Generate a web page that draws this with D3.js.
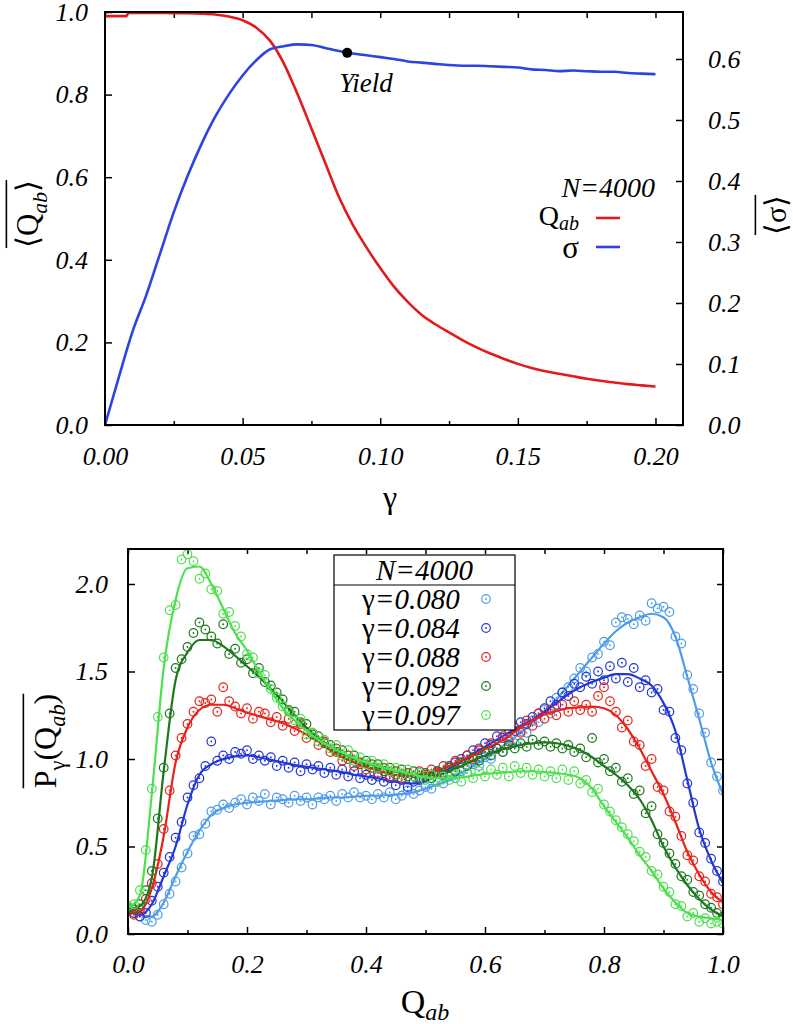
<!DOCTYPE html>
<html>
<head>
<meta charset="utf-8">
<script src="https://cdn.jsdelivr.net/npm/d3@7"></script>
<style>
  body { margin: 0; background: #fff; }
</style>
</head>
<body>
<script>
// ---------- data: top panel ----------
const gammaQ = [0, 0.005, 0.0078, 0.0085, 0.010, 0.015, 0.020, 0.025, 0.030, 0.035, 0.040, 0.045, 0.050, 0.055, 0.060, 0.065, 0.070, 0.075, 0.080, 0.085, 0.090, 0.095, 0.100, 0.105, 0.110, 0.115, 0.120, 0.125, 0.130, 0.135, 0.140, 0.145, 0.150, 0.155, 0.160, 0.165, 0.170, 0.175, 0.180, 0.185, 0.190, 0.195, 0.200];
const qabMean = [0.990, 0.990, 0.990, 0.998, 0.998, 0.998, 0.998, 0.997, 0.997, 0.996, 0.994, 0.989, 0.980, 0.962, 0.930, 0.875, 0.800, 0.718, 0.635, 0.552, 0.485, 0.430, 0.380, 0.335, 0.298, 0.267, 0.244, 0.224, 0.205, 0.188, 0.173, 0.160, 0.148, 0.138, 0.130, 0.124, 0.118, 0.112, 0.107, 0.103, 0.099, 0.096, 0.093];

const gammaS = [0, 0.005, 0.010, 0.015, 0.020, 0.025, 0.030, 0.035, 0.040, 0.045, 0.050, 0.055, 0.060, 0.065, 0.070, 0.075, 0.080, 0.085, 0.090, 0.095, 0.100, 0.105, 0.110, 0.115, 0.120, 0.125, 0.130, 0.135, 0.140, 0.145, 0.150, 0.155, 0.160, 0.165, 0.170, 0.175, 0.180, 0.185, 0.190, 0.195, 0.200];
const sigmaMean = [0.000, 0.078, 0.153, 0.213, 0.281, 0.349, 0.408, 0.460, 0.505, 0.542, 0.573, 0.598, 0.616, 0.621, 0.624, 0.623, 0.618, 0.613, 0.609, 0.606, 0.603, 0.600, 0.596, 0.594, 0.592, 0.590, 0.589, 0.589, 0.588, 0.587, 0.586, 0.583, 0.582, 0.580, 0.581, 0.580, 0.579, 0.579, 0.577, 0.576, 0.575];

const yieldPoint = [0.088, 0.610];

const gammaTicks = [0, 0.05, 0.10, 0.15, 0.20];
const gammaMinor = [0.025, 0.075, 0.125, 0.175];
const qabTicks = [0, 0.2, 0.4, 0.6, 0.8, 1.0];
const sigmaTicks = [0, 0.1, 0.2, 0.3, 0.4, 0.5, 0.6];

// ---------- data: bottom panel ----------
const qLine = [0, 0.02, 0.04, 0.06, 0.08, 0.10, 0.12, 0.14, 0.16, 0.18, 0.20, 0.22, 0.24, 0.26, 0.28, 0.30, 0.32, 0.34, 0.36, 0.38, 0.40, 0.42, 0.44, 0.46, 0.48, 0.50, 0.52, 0.54, 0.56, 0.58, 0.60, 0.62, 0.64, 0.66, 0.68, 0.70, 0.72, 0.74, 0.76, 0.78, 0.80, 0.82, 0.84, 0.86, 0.88, 0.90, 0.92, 0.94, 0.96, 0.98, 1.00];
const qPts = [0, 0.01, 0.02, 0.03, 0.04, 0.05, 0.06, 0.07, 0.08, 0.09,
  0.10, 0.11, 0.12, 0.13, 0.14, 0.15, 0.16, 0.17, 0.18, 0.19,
  0.20, 0.21, 0.22, 0.23, 0.24, 0.25, 0.26, 0.27, 0.28, 0.29,
  0.30, 0.31, 0.32, 0.33, 0.34, 0.35, 0.36, 0.37, 0.38, 0.39,
  0.40, 0.41, 0.42, 0.43, 0.44, 0.45, 0.46, 0.47, 0.48, 0.49,
  0.50, 0.51, 0.52, 0.53, 0.54, 0.55, 0.56, 0.57, 0.58, 0.59,
  0.60, 0.61, 0.62, 0.63, 0.64, 0.65, 0.66, 0.67, 0.68, 0.69,
  0.70, 0.71, 0.72, 0.73, 0.74, 0.75, 0.76, 0.77, 0.78, 0.79,
  0.80, 0.81, 0.82, 0.83, 0.84, 0.85, 0.86, 0.87, 0.88, 0.89,
  0.90, 0.91, 0.92, 0.93, 0.94, 0.95, 0.96, 0.97, 0.98, 0.99, 1.00];

// smooth curves
const line080 = [0.14, 0.11, 0.10, 0.18, 0.33, 0.47, 0.59, 0.68, 0.72, 0.74, 0.75, 0.755, 0.76, 0.765, 0.77, 0.77, 0.775, 0.78, 0.78, 0.785, 0.79, 0.79, 0.795, 0.80, 0.81, 0.83, 0.855, 0.88, 0.92, 0.96, 1.00, 1.05, 1.10, 1.15, 1.21, 1.27, 1.34, 1.42, 1.50, 1.58, 1.66, 1.73, 1.78, 1.81, 1.83, 1.81, 1.70, 1.47, 1.23, 0.98, 0.80];
const line084 = [0.13, 0.11, 0.17, 0.33, 0.50, 0.74, 0.91, 0.97, 1.00, 1.015, 1.02, 1.01, 0.995, 0.98, 0.965, 0.955, 0.945, 0.935, 0.925, 0.91, 0.90, 0.89, 0.875, 0.865, 0.86, 0.875, 0.905, 0.945, 0.985, 1.03, 1.07, 1.11, 1.15, 1.19, 1.225, 1.27, 1.32, 1.37, 1.41, 1.44, 1.465, 1.485, 1.485, 1.46, 1.42, 1.32, 1.16, 0.88, 0.60, 0.42, 0.29];
const line088 = [0.12, 0.13, 0.26, 0.56, 0.98, 1.18, 1.28, 1.31, 1.31, 1.29, 1.265, 1.245, 1.225, 1.205, 1.175, 1.14, 1.10, 1.05, 1.01, 0.98, 0.955, 0.935, 0.915, 0.905, 0.905, 0.915, 0.935, 0.96, 0.99, 1.02, 1.055, 1.09, 1.13, 1.18, 1.22, 1.255, 1.275, 1.29, 1.295, 1.30, 1.29, 1.25, 1.17, 1.06, 0.93, 0.80, 0.64, 0.47, 0.34, 0.24, 0.18];
const line092 = [0.14, 0.16, 0.32, 0.93, 1.45, 1.61, 1.68, 1.68, 1.645, 1.59, 1.53, 1.47, 1.40, 1.33, 1.25, 1.18, 1.12, 1.07, 1.03, 1.00, 0.975, 0.955, 0.935, 0.92, 0.91, 0.905, 0.91, 0.93, 0.96, 0.99, 1.02, 1.045, 1.065, 1.08, 1.09, 1.095, 1.09, 1.075, 1.05, 1.01, 0.96, 0.91, 0.85, 0.77, 0.65, 0.50, 0.38, 0.28, 0.20, 0.14, 0.10];
const line097 = [0.15, 0.22, 0.80, 1.52, 1.91, 2.09, 2.10, 2.00, 1.86, 1.72, 1.62, 1.50, 1.39, 1.29, 1.22, 1.16, 1.11, 1.07, 1.035, 1.005, 0.98, 0.96, 0.94, 0.925, 0.91, 0.895, 0.89, 0.89, 0.895, 0.905, 0.915, 0.92, 0.925, 0.93, 0.93, 0.925, 0.92, 0.91, 0.89, 0.83, 0.73, 0.64, 0.55, 0.45, 0.36, 0.26, 0.18, 0.12, 0.10, 0.09, 0.08];

// measured points
const pts080 = [0.13, 0.12, 0.10, 0.08, 0.07, 0.11, 0.17, 0.23, 0.30, 0.38,
  0.46, 0.56, 0.57, 0.63, 0.70, 0.71, 0.74, 0.72, 0.75, 0.77,
  0.74, 0.78, 0.76, 0.80, 0.74, 0.78, 0.77, 0.75, 0.79, 0.76,
  0.78, 0.74, 0.78, 0.77, 0.79, 0.76, 0.80, 0.78, 0.81, 0.78,
  0.79, 0.77, 0.80, 0.78, 0.81, 0.77, 0.79, 0.82, 0.80, 0.82,
  0.84, 0.83, 0.87, 0.86, 0.90, 0.89, 0.93, 0.92, 0.97, 0.96,
  1.01, 1.00, 1.06, 1.04, 1.11, 1.09, 1.16, 1.15, 1.22, 1.21,
  1.28, 1.26, 1.35, 1.38, 1.41, 1.46, 1.52, 1.50, 1.58, 1.60,
  1.67, 1.65, 1.78, 1.81, 1.80, 1.77, 1.82, 1.79, 1.89, 1.86,
  1.87, 1.84, 1.70, 1.66, 1.48, 1.40, 1.26, 1.15, 0.98, 0.90, 0.82];
const pts084 = [0.14, 0.12, 0.10, 0.12, 0.19, 0.27, 0.35, 0.44, 0.55, 0.64,
  0.78, 0.85, 0.89, 0.96, 1.10, 0.99, 1.02, 1.00, 1.04, 1.03,
  1.05, 1.00, 1.02, 0.99, 1.01, 0.96, 0.99, 0.95, 0.98, 0.93,
  0.97, 0.94, 0.96, 0.92, 0.95, 0.91, 0.94, 0.90, 0.93, 0.89,
  0.91, 0.88, 0.90, 0.87, 0.89, 0.85, 0.88, 0.84, 0.87, 0.88,
  0.90, 0.89, 0.93, 0.92, 0.96, 0.98, 1.00, 1.02, 1.05, 1.05,
  1.09, 1.08, 1.13, 1.12, 1.17, 1.16, 1.21, 1.20, 1.24, 1.26,
  1.29, 1.33, 1.31, 1.38, 1.36, 1.43, 1.41, 1.47, 1.43, 1.50,
  1.45, 1.53, 1.46, 1.55, 1.44, 1.52, 1.41, 1.45, 1.38, 1.40,
  1.28, 1.27, 1.12, 1.05, 0.86, 0.75, 0.58, 0.52, 0.43, 0.36, 0.30];
const pts088 = [0.13, 0.11, 0.14, 0.20, 0.29, 0.40, 0.60, 0.82, 1.02, 1.12,
  1.20, 1.27, 1.33, 1.32, 1.34, 1.27, 1.41, 1.33, 1.30, 1.26,
  1.29, 1.23, 1.27, 1.26, 1.21, 1.24, 1.19, 1.23, 1.16, 1.20,
  1.12, 1.15, 1.08, 1.10, 1.04, 1.06, 0.99, 1.02, 0.96, 0.98,
  0.94, 0.97, 0.92, 0.95, 0.90, 0.93, 0.89, 0.92, 0.90, 0.93,
  0.91, 0.94, 0.92, 0.96, 0.95, 0.99, 0.98, 1.02, 1.00, 1.06,
  1.04, 1.09, 1.06, 1.13, 1.10, 1.18, 1.15, 1.22, 1.19, 1.26,
  1.23, 1.28, 1.25, 1.31, 1.27, 1.33, 1.28, 1.31, 1.27, 1.36,
  1.41, 1.33, 1.27, 1.18, 1.22, 1.10, 1.08, 0.96, 1.00, 0.84,
  0.82, 0.70, 0.67, 0.56, 0.45, 0.42, 0.33, 0.30, 0.23, 0.21, 0.17];
const pts092 = [0.15, 0.14, 0.17, 0.25, 0.36, 0.66, 0.95, 1.26, 1.52, 1.57,
  1.64, 1.72, 1.78, 1.74, 1.70, 1.66, 1.77, 1.60, 1.63, 1.55,
  1.57, 1.49, 1.52, 1.44, 1.42, 1.38, 1.34, 1.28, 1.27, 1.21,
  1.20, 1.14, 1.13, 1.09, 1.08, 1.04, 1.05, 1.00, 1.02, 0.97,
  0.99, 0.95, 0.97, 0.93, 0.95, 0.91, 0.94, 0.90, 0.93, 0.89,
  0.92, 0.89, 0.93, 0.91, 0.95, 0.93, 0.98, 0.96, 1.01, 0.99,
  1.04, 1.02, 1.06, 1.04, 1.08, 1.06, 1.09, 1.07, 1.11, 1.08,
  1.10, 1.07, 1.09, 1.06, 1.08, 1.04, 1.06, 1.01, 1.12, 0.98,
  1.00, 0.93, 0.95, 0.87, 0.89, 0.80, 0.82, 0.69, 0.73, 0.57,
  0.52, 0.46, 0.40, 0.33, 0.31, 0.24, 0.22, 0.17, 0.15, 0.12, 0.10];
const pts097 = [0.16, 0.17, 0.25, 0.48, 0.83, 1.24, 1.58, 1.85, 1.88, 2.14,
  2.17, 2.13, 2.03, 2.06, 1.97, 1.96, 1.83, 1.84, 1.76, 1.70,
  1.60, 1.58, 1.49, 1.48, 1.40, 1.35, 1.30, 1.27, 1.22, 1.23,
  1.14, 1.15, 1.10, 1.11, 1.06, 1.08, 1.02, 1.05, 0.99, 1.01,
  0.97, 0.99, 0.95, 0.97, 0.93, 0.95, 0.91, 0.94, 0.90, 0.92,
  0.88, 0.91, 0.87, 0.90, 0.88, 0.91, 0.87, 0.92, 0.89, 0.93,
  0.90, 0.94, 0.91, 0.95, 0.90, 0.96, 0.92, 0.95, 0.91, 0.94,
  0.90, 0.93, 0.89, 0.94, 0.88, 0.93, 0.86, 0.88, 0.81, 0.83,
  0.74, 0.70, 0.65, 0.61, 0.57, 0.53, 0.47, 0.44, 0.36, 0.34,
  0.27, 0.24, 0.17, 0.16, 0.10, 0.12, 0.07, 0.09, 0.06, 0.07, 0.06];

const gammaLabels = ['0.080', '0.084', '0.088', '0.092', '0.097'];
const seriesColors = ['#4f9ce8', '#2236d8', '#e8221a', '#1d781d', '#4ee04e'];
const qTicks = [0, 0.2, 0.4, 0.6, 0.8, 1.0];
const qMinor = [0.1, 0.3, 0.5, 0.7, 0.9];
const pTicks = [0, 0.5, 1.0, 1.5, 2.0];

const series = [
  { label: gammaLabels[0], color: seriesColors[0], line: line080, pts: pts080 },
  { label: gammaLabels[1], color: seriesColors[1], line: line084, pts: pts084 },
  { label: gammaLabels[2], color: seriesColors[2], line: line088, pts: pts088 },
  { label: gammaLabels[3], color: seriesColors[3], line: line092, pts: pts092 },
  { label: gammaLabels[4], color: seriesColors[4], line: line097, pts: pts097 }
];

// ---------- svg ----------
const width = 793, height = 1024;
const serif = 'Liberation Serif, Times New Roman, serif';
const svg = d3.select('body').append('svg')
  .attr('width', width)
  .attr('height', height)
  .attr('font-family', serif);

const tickFont = 26;

function styleAxis(g) {
  g.attr('font-family', serif).attr('font-size', tickFont);
  g.select('.domain').remove();
  g.selectAll('.tick line').attr('stroke', '#000').attr('stroke-width', 1.5);
  g.selectAll('.tick text')
    .attr('font-family', serif)
    .attr('font-size', tickFont)
    .attr('font-style', 'italic')
    .attr('fill', '#000');
}

// label with an overline (rotated); parts = [{t, italic, sub}]
function overLabel(cx, cy, parts, size, rotate) {
  const g = svg.append('g').attr('transform', `translate(${cx},${cy})` + (rotate ? ' rotate(-90)' : ''));
  const t = g.append('text').attr('text-anchor', 'middle').attr('font-size', size).attr('font-family', serif);
  let shift = 0;
  parts.forEach(p => {
    const target = p.sub ? size * 0.28 : 0;
    t.append('tspan')
      .attr('dy', target - shift)
      .attr('font-size', p.sub ? size * 0.7 : size)
      .attr('font-style', p.italic ? 'italic' : 'normal')
      .text(p.t);
    shift = target;
  });
  const bb = t.node().getBBox();
  g.append('line')
    .attr('x1', bb.x).attr('x2', bb.x + bb.width)
    .attr('y1', -size * 1.02).attr('y2', -size * 1.02)
    .attr('stroke', '#000').attr('stroke-width', 1.6);
  return g;
}

// ================= TOP PANEL =================
const m1 = { left: 105, right: 683, top: 12, bottom: 425 };
const x1 = d3.scaleLinear().domain([0, 0.21]).range([m1.left, m1.right]);
const y1 = d3.scaleLinear().domain([0, 1]).range([m1.bottom, m1.top]);
const y1r = d3.scaleLinear().domain([0, 0.677]).range([m1.bottom, m1.top]);

svg.append('g').attr('transform', `translate(0,${m1.bottom})`)
  .call(d3.axisBottom(x1).tickValues(gammaTicks).tickSize(-7).tickPadding(22).tickFormat(d3.format('.2f')))
  .call(styleAxis);
svg.append('g').attr('transform', `translate(0,${m1.bottom})`)
  .call(d3.axisBottom(x1).tickValues(gammaMinor).tickSize(-4).tickFormat(''))
  .call(styleAxis);
svg.append('g').attr('transform', `translate(0,${m1.top})`)
  .call(d3.axisTop(x1).tickValues(gammaTicks.concat(gammaMinor)).tickSize(-6).tickFormat(''))
  .call(styleAxis);
svg.append('g').attr('transform', `translate(${m1.left},0)`)
  .call(d3.axisLeft(y1).tickValues(qabTicks).tickSize(-7).tickPadding(17).tickFormat(d3.format('.1f')))
  .call(styleAxis);
svg.append('g').attr('transform', `translate(${m1.right},0)`)
  .call(d3.axisRight(y1r).tickValues(sigmaTicks).tickSize(-7).tickPadding(25).tickFormat(d3.format('.1f')))
  .call(styleAxis);

const lineQ = d3.line().x((d, i) => x1(gammaQ[i])).y(d => y1(d)).curve(d3.curveMonotoneX);
const lineS = d3.line().x((d, i) => x1(gammaS[i])).y(d => y1r(d)).curve(d3.curveMonotoneX);

svg.append('path').datum(qabMean)
  .attr('d', lineQ).attr('fill', 'none').attr('stroke', '#e31a1c').attr('stroke-width', 2.6);
svg.append('path').datum(sigmaMean)
  .attr('d', lineS).attr('fill', 'none').attr('stroke', '#2b44e2').attr('stroke-width', 2.6);

svg.append('rect')
  .attr('x', m1.left).attr('y', m1.top)
  .attr('width', m1.right - m1.left).attr('height', m1.bottom - m1.top)
  .attr('fill', 'none').attr('stroke', '#000').attr('stroke-width', 2);

// yield marker
svg.append('circle')
  .attr('cx', x1(yieldPoint[0])).attr('cy', y1r(yieldPoint[1]))
  .attr('r', 5).attr('fill', '#000');
svg.append('text')
  .attr('x', x1(yieldPoint[0]) - 8).attr('y', y1r(yieldPoint[1]) + 39)
  .attr('font-size', 27).attr('font-style', 'italic')
  .text('Yield');

// legend (top)
svg.append('text').attr('x', 655).attr('y', 197)
  .attr('text-anchor', 'end').attr('font-size', 28).attr('font-style', 'italic')
  .text('N=4000');
const lq = svg.append('text').attr('x', 579).attr('y', 225)
  .attr('text-anchor', 'end').attr('font-size', 28);
lq.append('tspan').text('Q');
lq.append('tspan').attr('font-size', 20).attr('font-style', 'italic').attr('dy', 5).text('ab');
svg.append('text').attr('x', 579).attr('y', 258)
  .attr('text-anchor', 'end').attr('font-size', 31).text('σ');
svg.append('line').attr('x1', 596).attr('x2', 620).attr('y1', 218).attr('y2', 218)
  .attr('stroke', '#e31a1c').attr('stroke-width', 2.6);
svg.append('line').attr('x1', 596).attr('x2', 620).attr('y1', 247).attr('y2', 247)
  .attr('stroke', '#2b44e2').attr('stroke-width', 2.6);

// axis labels (top)
svg.append('text').attr('x', 390).attr('y', 508)
  .attr('text-anchor', 'middle').attr('font-size', 32).text('γ');
overLabel(38, 214, [{ t: '⟨' }, { t: 'Q' }, { t: 'ab', italic: true, sub: true }, { t: '⟩' }], 31, true);
overLabel(786, 215, [{ t: '⟨' }, { t: 'σ' }, { t: '⟩' }], 30, true);

// ================= BOTTOM PANEL =================
const m2 = { left: 128, right: 723, top: 549, bottom: 934 };
const x2 = d3.scaleLinear().domain([0, 1]).range([m2.left, m2.right]);
const y2 = d3.scaleLinear().domain([0, 2.2]).range([m2.bottom, m2.top]);

svg.append('g').attr('transform', `translate(0,${m2.bottom})`)
  .call(d3.axisBottom(x2).tickValues(qTicks).tickSize(-7).tickPadding(21).tickFormat(d3.format('.1f')))
  .call(styleAxis);
svg.append('g').attr('transform', `translate(0,${m2.bottom})`)
  .call(d3.axisBottom(x2).tickValues(qMinor).tickSize(-4).tickFormat(''))
  .call(styleAxis);
svg.append('g').attr('transform', `translate(0,${m2.top})`)
  .call(d3.axisTop(x2).tickValues(qTicks.concat(qMinor)).tickSize(-5).tickFormat(''))
  .call(styleAxis);
svg.append('g').attr('transform', `translate(${m2.left},0)`)
  .call(d3.axisLeft(y2).tickValues(pTicks).tickSize(-7).tickPadding(20).tickFormat(d3.format('.1f')))
  .call(styleAxis);
svg.append('g').attr('transform', `translate(${m2.right},0)`)
  .call(d3.axisRight(y2).tickValues(pTicks).tickSize(-6).tickFormat(''))
  .call(styleAxis);

svg.append('clipPath').attr('id', 'clip2')
  .append('rect').attr('x', m2.left).attr('y', m2.top)
  .attr('width', m2.right - m2.left).attr('height', m2.bottom - m2.top);

const plot2 = svg.append('g').attr('clip-path', 'url(#clip2)');
const lineP = d3.line().x((d, i) => x2(qLine[i])).y(d => y2(d)).curve(d3.curveMonotoneX);

series.forEach(s => {
  const g = plot2.append('g');
  g.selectAll('circle.pt').data(s.pts).enter().append('circle')
    .attr('class', 'pt')
    .attr('cx', (d, i) => x2(qPts[i])).attr('cy', d => y2(d))
    .attr('r', 4.3).attr('fill', 'none').attr('stroke', s.color).attr('stroke-width', 1.2);
  g.selectAll('circle.dot').data(s.pts).enter().append('circle')
    .attr('class', 'dot')
    .attr('cx', (d, i) => x2(qPts[i])).attr('cy', d => y2(d))
    .attr('r', 0.9).attr('fill', s.color);
  g.append('path').datum(s.line)
    .attr('d', lineP).attr('fill', 'none').attr('stroke', s.color).attr('stroke-width', 2.2);
});

svg.append('rect')
  .attr('x', m2.left).attr('y', m2.top)
  .attr('width', m2.right - m2.left).attr('height', m2.bottom - m2.top)
  .attr('fill', 'none').attr('stroke', '#000').attr('stroke-width', 2);

// legend (bottom)
const lg = { x0: 334, x1: 515, y0: 555, y1: 730, ySep: 585 };
svg.append('rect').attr('x', lg.x0).attr('y', lg.y0)
  .attr('width', lg.x1 - lg.x0).attr('height', lg.y1 - lg.y0)
  .attr('fill', '#fff').attr('stroke', '#000').attr('stroke-width', 1.2);
svg.append('line').attr('x1', lg.x0).attr('x2', lg.x1).attr('y1', lg.ySep).attr('y2', lg.ySep)
  .attr('stroke', '#000').attr('stroke-width', 1.2);
svg.append('text').attr('x', (lg.x0 + lg.x1) / 2).attr('y', 580)
  .attr('text-anchor', 'middle').attr('font-size', 29).attr('font-style', 'italic')
  .text('N=4000');
series.forEach((s, i) => {
  const cy = 599 + i * 29;
  const t = svg.append('text').attr('x', 362).attr('y', cy + 10).attr('font-size', 29);
  t.append('tspan').text('γ');
  t.append('tspan').attr('font-style', 'italic').text('=' + s.label);
  svg.append('circle').attr('cx', 486).attr('cy', cy).attr('r', 4.3)
    .attr('fill', 'none').attr('stroke', s.color).attr('stroke-width', 1.2);
  svg.append('circle').attr('cx', 486).attr('cy', cy).attr('r', 0.9).attr('fill', s.color);
});

// axis labels (bottom)
const xl = svg.append('text').attr('x', 425).attr('y', 1013)
  .attr('text-anchor', 'middle').attr('font-size', 34);
xl.append('tspan').text('Q');
xl.append('tspan').attr('font-size', 24).attr('font-style', 'italic').attr('dy', 7).text('ab');

overLabel(56, 741, [{ t: 'P' }, { t: 'γ', sub: true }, { t: '(' }, { t: 'Q' }, { t: 'ab', italic: true, sub: true }, { t: ')' }], 32, true);
</script>
</body>
</html>
